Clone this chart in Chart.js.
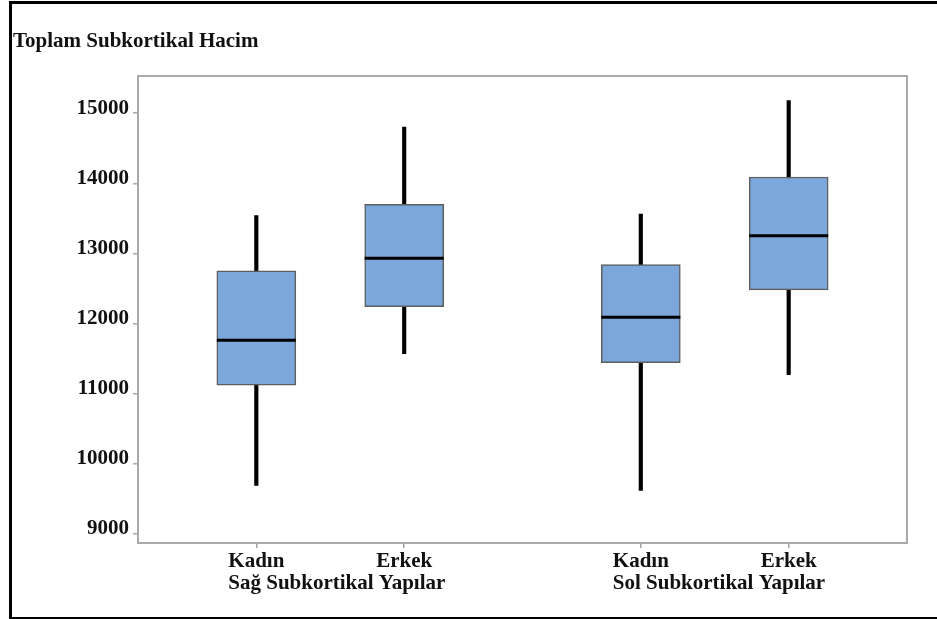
<!DOCTYPE html>
<html>
<head>
<meta charset="utf-8">
<script src="https://cdn.jsdelivr.net/npm/chart.js@4/dist/chart.umd.min.js"></script>
<style>
  html, body { margin: 0; padding: 0; background: #fff; overflow: hidden; }
  #wrap { position: relative; width: 937px; height: 619px; overflow: hidden; }
  #frame {
    position: absolute; left: 9px; top: 1px; width: 940px; height: 613px;
    border-left: 3px solid #000; border-top: 3px solid #000; border-bottom: 3px solid #000;
    pointer-events: none;
  }
  canvas { position: absolute; left: 0; top: 0; }
</style>
</head>
<body>
<div id="wrap">
  <canvas id="c" width="937" height="619"></canvas>
  <div id="frame"></div>
</div>
<script>
// Box-plot summaries of total subcortical volume by side and sex
const categories = ['Kadın', 'Erkek', 'Kadın', 'Erkek'];
const groups = ['Sağ Subkortikal Yapılar', 'Sol Subkortikal Yapılar'];
const whiskerLow  = [9690, 11570, 9620, 11270];
const q1          = [11120, 12240, 11440, 12480];
const median      = [11760, 12930, 12090, 13250];
const q3          = [12750, 13700, 12840, 14090];
const whiskerHigh = [13540, 14800, 13560, 15180];
const yTicks = [9000, 10000, 11000, 12000, 13000, 14000, 15000];
const title = 'Toplam Subkortikal Hacim';

// two categories per group, with a wider gap between groups
const PER_GROUP = 2;
const GROUP_STEP = 2.6;
const positions = categories.map((_, i) =>
  1 + Math.floor(i / PER_GROUP) * GROUP_STEP + (i % PER_GROUP));

const FONT = "'Liberation Serif', 'Times New Roman', serif";
const FONT_SIZE = 21;

const boxData = positions.map((x, i) => ({ x, y: [q1[i], q3[i]] }));
const whiskerData = positions.map((x, i) => ({ x, y: [whiskerLow[i], whiskerHigh[i]] }));
const medianData = positions.map((x, i) => ({ x, y: median[i] }));

const plotFrame = {
  id: 'plotFrame',
  beforeDatasetsDraw(chart) {
    const a = chart.chartArea, ctx = chart.ctx;
    ctx.save();
    ctx.strokeStyle = '#a9a9a9';
    ctx.lineWidth = 2;
    ctx.strokeRect(a.left, a.top, a.right - a.left, a.bottom - a.top);
    ctx.restore();
  }
};

const groupLabels = {
  id: 'groupLabels',
  afterDraw(chart) {
    const xs = chart.scales.x, ctx = chart.ctx;
    ctx.save();
    ctx.font = 'bold ' + FONT_SIZE + 'px ' + FONT;
    ctx.fillStyle = '#111';
    ctx.textAlign = 'left';
    ctx.textBaseline = 'middle';
    groups.forEach((g, gi) => {
      const first = gi * PER_GROUP;
      const w = ctx.measureText(categories[first]).width;
      const x = xs.getPixelForValue(positions[first]) - w / 2;
      ctx.fillText(g, x, xs.top + 41);
    });
    ctx.restore();
  }
};

new Chart(document.getElementById('c'), {
  type: 'bar',
  data: {
    datasets: [
      {
        type: 'line',
        data: medianData,
        showLine: false,
        pointStyle: 'line',
        pointRadius: 39.5,
        pointHoverRadius: 39.5,
        pointBorderWidth: 3,
        pointBorderColor: '#000',
        borderColor: '#000',
        order: 0
      },
      {
        data: boxData,
        grouped: false,
        barThickness: 79,
        backgroundColor: '#7ba7db',
        borderColor: '#5e5e5e',
        borderWidth: 1.5,
        borderSkipped: false,
        order: 1
      },
      {
        data: whiskerData,
        grouped: false,
        barThickness: 3.5,
        backgroundColor: '#000',
        borderWidth: 0,
        order: 2
      }
    ]
  },
  options: {
    responsive: false,
    animation: false,
    events: [],
    layout: { autoPadding: false, padding: { left: 13, right: 30, top: 0, bottom: 0 } },
    plugins: {
      legend: { display: false },
      tooltip: { enabled: false },
      title: {
        display: true,
        text: title,
        align: 'start',
        color: '#111',
        font: { family: FONT, size: FONT_SIZE, weight: 'bold', lineHeight: 1.2 },
        padding: { top: 28.5, bottom: 22.3 }
      }
    },
    scales: {
      x: {
        type: 'linear',
        min: 0.2,
        max: 5.4,
        offset: false,
        afterBuildTicks(s) { s.ticks = positions.map(v => ({ value: v })); },
        afterFit(s) { s.height = 76; s.paddingLeft = 0; s.paddingRight = 0; },
        ticks: {
          autoSkip: false,
          maxRotation: 0,
          padding: 1,
          color: '#111',
          font: { family: FONT, size: FONT_SIZE, weight: 'bold' },
          callback(v) {
            const i = positions.indexOf(v);
            return i >= 0 ? categories[i] : '';
          }
        },
        grid: { offset: false, drawOnChartArea: false, drawTicks: true, tickLength: 5, color: '#a0a0a0', lineWidth: 1.5 },
        border: { color: '#a9a9a9', width: 2 }
      },
      y: {
        min: 8870,
        max: 15530,
        afterBuildTicks(s) { s.ticks = yTicks.map(v => ({ value: v })); },
        afterFit(s) { s.width = 125; },
        ticks: {
          padding: 4,
          labelOffset: -5,
          color: '#111',
          font: { family: FONT, size: FONT_SIZE, weight: 'bold' },
          callback(v) { return String(v); }
        },
        grid: { drawOnChartArea: false, drawTicks: true, tickLength: 5, color: '#a9a9a9', lineWidth: 1.5 },
        border: { color: '#a9a9a9', width: 2 }
      }
    }
  },
  plugins: [plotFrame, groupLabels]
});
</script>
</body>
</html>
